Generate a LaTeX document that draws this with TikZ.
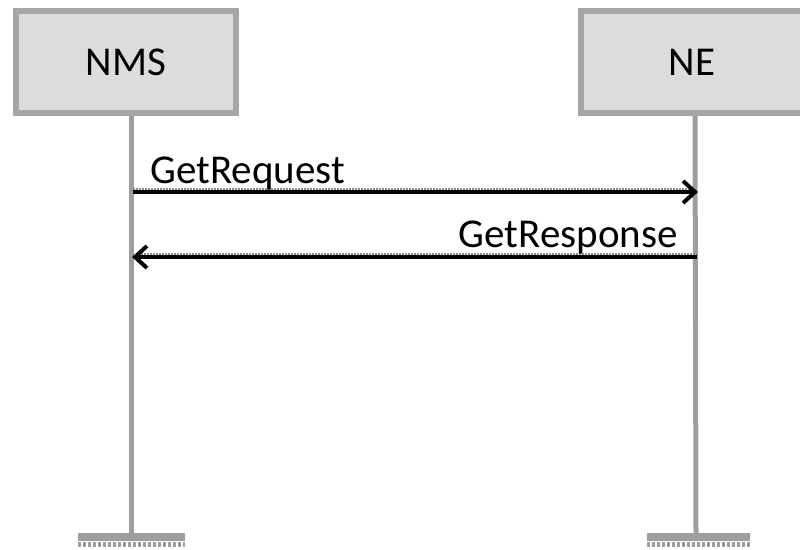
\documentclass[tikz,border=0pt]{standalone}
\usepackage{fontspec}
\setmainfont{Carlito}
\usetikzlibrary{arrows.meta}
\definecolor{boxfill}{HTML}{DCDCDC}
\definecolor{boxline}{HTML}{A6A6A6}
\definecolor{lifegray}{HTML}{9E9E9E}
\definecolor{shadegray}{HTML}{8C8C8C}
\tikzset{
  actor/.style={draw=boxline, fill=boxfill, line width=6pt, minimum height=102pt,
    inner sep=0pt, font=\fontsize{41}{44}\selectfont, text=black},
  lifeline/.style={draw=lifegray, line width=5pt},
  msg/.style={draw=black, line width=4pt,
    -{Straight Barb[length=12pt, width=22pt, line width=4pt]}},
  msgshade/.style={draw=shadegray, line width=2pt, dash pattern=on 2pt off 1pt},
  msglabel/.style={font=\fontsize{41}{44}\selectfont, text=black, inner sep=0pt},
  endbar/.style={fill=lifegray, draw=none},
  endshade/.style={draw=lifegray, line width=5pt, dash pattern=on 3pt off 2pt}
}
\begin{document}
\begin{tikzpicture}[x=1pt, y=-1pt]
  \useasboundingbox (0,0) rectangle (800,549);
  \clip (0,0) rectangle (800,549);

  % participant boxes
  \node[actor, minimum width=220pt] (nms) at (126,62) {NMS};
  \node[actor, minimum width=222pt] (ne) at (692,62) {NE};

  % lifeline end markers
  \coordinate (nmsend) at (131,533);
  \coordinate (neend) at (696,533);
  \fill[endbar] (78,533) rectangle (185,541);
  \fill[endbar] (647,533) rectangle (750,541);
  \draw[endshade] (78,544.5) -- (185,544.5);
  \draw[endshade] (647,544.5) -- (750,544.5);

  % lifelines
  \coordinate (nmstop) at (131,116);
  \coordinate (netop) at (695,116);
  \draw[lifeline] (nmstop) -- (nmsend);
  \draw[lifeline] (netop) -- (neend);

  % message anchor points on the lifelines
  \coordinate (reqs) at (133,192);
  \coordinate (reqe) at (698,192);
  \coordinate (ress) at (697,257);
  \coordinate (rese) at (132,257);

  % shadows under the message lines
  \draw[msgshade] ([yshift=3.5pt]reqs) -- ([yshift=3.5pt,xshift=-6pt]reqe);
  \draw[msgshade] ([yshift=3.5pt,xshift=6pt]rese) -- ([yshift=3.5pt]ress);

  % messages
  \draw[msg] (reqs) -- (reqe);
  \draw[msg] (ress) -- (rese);

  % message labels
  \node[msglabel, anchor=base west] (reqlbl) at (150,183) {GetRequest};
  \node[msglabel, anchor=base east] (reslbl) at (678,247) {GetResponse};
\end{tikzpicture}
\end{document}
